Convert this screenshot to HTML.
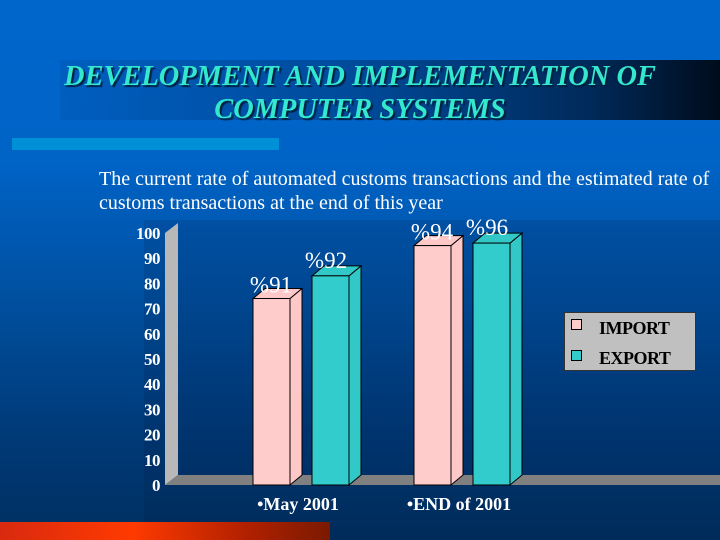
<!DOCTYPE html>
<html><head><meta charset="utf-8"><style>
body{margin:0;width:720px;height:540px;overflow:hidden;font-family:"Liberation Serif",serif}
#bg{position:absolute;left:0;top:0;width:720px;height:540px;background:linear-gradient(#0066cc 0%,#0063c6 30%,#0050a0 55%,#003a78 80%,#003060 100%)}
</style></head><body>
<div id="bg"></div>
<div style="position:absolute;left:60px;top:60px;width:660px;height:60px;background:linear-gradient(90deg,rgba(0,80,170,0.3) 0%,#004a9a 45%,#002a5a 80%,#000c1c 100%)"></div>
<div style="position:absolute;left:0;top:60px;width:720px;text-align:center;color:#33e8cc;font-style:italic;font-weight:bold;font-size:29px;line-height:33px;text-shadow:2px 2px 1px #002040;transform:scaleX(0.98);transform-origin:360px 0">DEVELOPMENT AND IMPLEMENTATION OF<br>COMPUTER SYSTEMS</div>
<div style="position:absolute;left:12px;top:138px;width:267px;height:12px;background:#0090d8"></div>
<div style="position:absolute;left:99px;top:167px;color:#fff;font-size:20px;line-height:24px;white-space:nowrap">The current rate of automated customs transactions and the estimated rate of<br>customs transactions at the end of this year</div>
<div style="position:absolute;left:144px;top:220px;width:576px;height:320px;background:rgba(0,20,60,0.15)"></div>
<div style="position:absolute;left:0;top:522px;width:330px;height:18px;background:linear-gradient(90deg,#d82a10,#ff3a00 40%,#b02000 75%,#7a1a00)"></div>
<svg id="chart" width="720" height="540" style="position:absolute;left:0;top:0"></svg>
<div style="position:absolute;left:564px;top:312px;width:130px;height:57px;background:#c0c0c0;border:1px solid #333">
<div style="position:absolute;left:6px;top:6px;width:9px;height:9px;background:#ffcccc;border:1px solid #000"></div>
<div style="position:absolute;left:34px;top:5px;font-size:18px;font-weight:bold;letter-spacing:-0.5px">IMPORT</div>
<div style="position:absolute;left:6px;top:37px;width:9px;height:9px;background:#33cccc;border:1px solid #000"></div>
<div style="position:absolute;left:34px;top:35px;font-size:18px;font-weight:bold;letter-spacing:-0.5px">EXPORT</div>
</div>
<script>
const categories=["•May 2001","•END of 2001"];
const importValues=[74,95];
const exportValues=[83,96];
const valueLabels=[["%91","%92"],["%94","%96"]];
const ticks=[0,10,20,30,40,50,60,70,80,90,100];
const NS="http://www.w3.org/2000/svg";
const svg=document.getElementById('chart');
const y0=485, ppu=2.52, dx=12, dy=10;
const y=v=>y0-v*ppu;
const groupX=[253,414], barW=37, gap=22;
function mk(t,a){const e=document.createElementNS(NS,t);for(const k in a)e.setAttribute(k,a[k]);svg.appendChild(e);return e;}
let w=mk('polygon',{points:`165,${y0} 178,${y0-dy} 178,${y(100)-dy} 165,${y(100)}`,fill:'#b8b8b8'});

let f=mk('polygon',{points:`165,${y0} 178,${y0-dy} 720,${y0-dy} 720,${y0}`,fill:'#808080'});

ticks.forEach(t=>{const e=mk('text',{x:160,y:y(t)+6,'text-anchor':'end',fill:'#fff','font-size':17,'font-weight':'bold','font-family':'Liberation Serif','letter-spacing':'-0.5'});e.textContent=t;
});
function bar(x,v,col,side,name){const t=y(v);
let g=mk('g',{});
const a=(tag,at)=>{const e=document.createElementNS(NS,tag);for(const k in at)e.setAttribute(k,at[k]);g.appendChild(e);};
a('polygon',{points:`${x+barW},${y0} ${x+barW+dx},${y0-dy} ${x+barW+dx},${t-dy} ${x+barW},${t}`,fill:side,stroke:'#000','stroke-width':1});
a('polygon',{points:`${x},${t} ${x+dx},${t-dy} ${x+barW+dx},${t-dy} ${x+barW},${t}`,fill:side,stroke:'#000','stroke-width':1});
a('rect',{x:x,y:t,width:barW,height:y0-t,fill:col,stroke:'#000','stroke-width':1});}
categories.forEach((c,i)=>{const x=groupX[i];
bar(x,importValues[i],'#ffcccc','#ffc8c8','bar-import-'+i);
bar(x+barW+gap,exportValues[i],'#33cccc','#33c8c8','bar-export-'+i);
let l1=mk('text',{x:x+18,y:y(importValues[i])-6,'text-anchor':'middle',fill:'#fff','font-size':23,'font-family':'Liberation Serif'});l1.textContent=valueLabels[i][0];

let l2=mk('text',{x:x+barW+gap+14,y:y(exportValues[i])-8,'text-anchor':'middle',fill:'#fff','font-size':23,'font-family':'Liberation Serif'});l2.textContent=valueLabels[i][1];

let cl=mk('text',{x:x+45,y:510,'text-anchor':'middle',fill:'#fff','font-size':18,'font-weight':'bold','font-family':'Liberation Serif'});cl.textContent=c;
});
</script>
</body></html>
